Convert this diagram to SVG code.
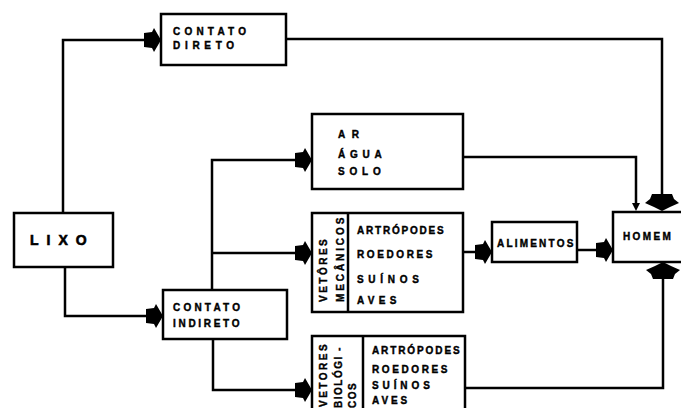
<svg xmlns="http://www.w3.org/2000/svg" width="681" height="408" viewBox="0 0 681 408">
<style>
.box{fill:#fff;stroke:#000;stroke-width:2.5}
.ln{fill:none;stroke:#000;stroke-width:2.5}
.t{font-family:"Liberation Sans",Arial,sans-serif;font-weight:bold;font-size:10px;fill:#000;stroke:#000;stroke-width:0.4}
.big{font-size:14px;stroke-width:0.6}
</style>
<defs>
<path id="ah" d="M0,0 L-7,-12 L-9,-8 L-17,-7 L-17,7 L-9,8 L-7,12 Z" fill="#000"/>
<path id="av" d="M0,0 L-8,-4 L-17,-8 L-12,-12 L-10,-17 L10,-17 L12,-12 L17,-8 L8,-4 Z" fill="#000"/>
<path id="as" d="M0,0 L-4,-8 L4,-8 Z" fill="#000"/>
</defs>
<rect width="681" height="408" fill="#fff"/>
<g id="connectors">
<path class="ln" d="M63,213 V40 H152"/>
<path class="ln" d="M65,267 V316 H154"/>
<path class="ln" d="M286,39 H662 V200"/>
<path class="ln" d="M212,290 V160 H303"/>
<path class="ln" d="M212,253 H303"/>
<path class="ln" d="M213,339 V390 H303"/>
<path class="ln" d="M463,157 H636 V205"/>
<path class="ln" d="M463,252 H483"/>
<path class="ln" d="M577,250 H604"/>
<path class="ln" d="M465,388 H663 V272"/>
<use href="#ah" transform="translate(161,40)"/>
<use href="#ah" transform="translate(163,316)"/>
<use href="#ah" transform="translate(312,160)"/>
<use href="#ah" transform="translate(312,253)"/>
<use href="#ah" transform="translate(312,390)"/>
<use href="#ah" transform="translate(492,252)"/>
<use href="#ah" transform="translate(613,250)"/>
<use href="#av" transform="translate(662,211)"/>
<use href="#av" transform="translate(663,262) rotate(180)"/>
<use href="#as" transform="translate(636,211)"/>
</g>
<g id="lixo">
<rect class="box" x="14" y="213" width="99" height="54"/>
<text class="t big" x="30" y="245" letter-spacing="8">LIXO</text>
</g>
<g id="contato-direto">
<rect class="box" x="161" y="14" width="125" height="51"/>
<text class="t" x="173" y="35" letter-spacing="4.2">CONTATO</text>
<text class="t" x="173" y="49" letter-spacing="4.7">DIRETO</text>
</g>
<g id="contato-indireto">
<rect class="box" x="163" y="290" width="124" height="49"/>
<text class="t" x="173" y="311" letter-spacing="3.2">CONTATO</text>
<text class="t" x="173" y="327" letter-spacing="2.7">INDIRETO</text>
</g>
<g id="ar-agua-solo">
<rect class="box" x="312" y="114" width="151" height="75"/>
<text class="t" x="338" y="138" letter-spacing="6.6">AR</text>
<text class="t" x="338" y="158" letter-spacing="4.8">ÁGUA</text>
<text class="t" x="338" y="175" letter-spacing="4.8">SOLO</text>
</g>
<g id="vetores-mecanicos">
<rect class="box" x="312" y="213" width="151" height="99"/>
<line class="ln" x1="348" y1="213" x2="348" y2="312"/>
<text class="t" transform="translate(327,302) rotate(-90)" letter-spacing="2.5">VETÔRES</text>
<text class="t" transform="translate(344,302) rotate(-90)" letter-spacing="2.9">MECÂNICOS</text>
<text class="t" x="357" y="234" letter-spacing="1.8">ARTRÓPODES</text>
<text class="t" x="357" y="258" letter-spacing="2.6">ROEDORES</text>
<text class="t" x="357" y="283" letter-spacing="4.7">SUÍNOS</text>
<text class="t" x="357" y="304" letter-spacing="4.3">AVES</text>
</g>
<g id="vetores-biologicos">
<rect class="box" x="312" y="336" width="153" height="82"/>
<line class="ln" x1="363" y1="336" x2="363" y2="418"/>
<text class="t" transform="translate(327,407) rotate(-90)" letter-spacing="2.5">VETORES</text>
<text class="t" transform="translate(342,408) rotate(-90)" letter-spacing="1.5">BIOLÓGI -</text>
<text class="t" transform="translate(356,408) rotate(-90)" letter-spacing="1.5">COS</text>
<text class="t" x="372" y="354" letter-spacing="1.9">ARTRÓPODES</text>
<text class="t" x="372" y="373" letter-spacing="2.6">ROEDORES</text>
<text class="t" x="372" y="389" letter-spacing="3.9">SUÍNOS</text>
<text class="t" x="372" y="404" letter-spacing="2.9">AVES</text>
</g>
<g id="alimentos">
<rect class="box" x="492" y="222" width="85" height="40"/>
<text class="t" x="497" y="247" letter-spacing="2.2">ALIMENTOS</text>
</g>
<g id="homem">
<rect class="box" x="613" y="212" width="80" height="50"/>
<text class="t" x="623" y="240" letter-spacing="2.4">HOMEM</text>
</g>
</svg>
